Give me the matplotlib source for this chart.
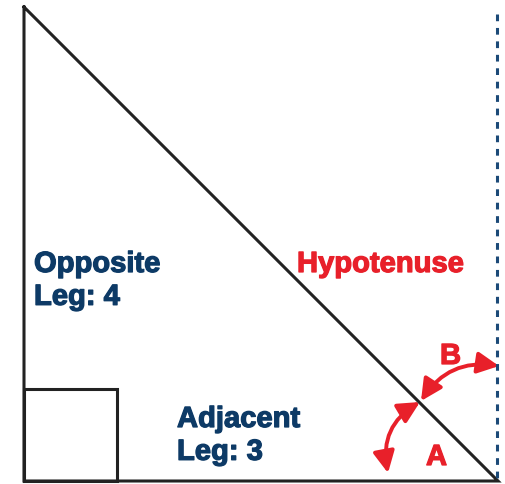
import matplotlib.pyplot as plt
import matplotlib.patheffects as pe
from matplotlib.patches import FancyArrowPatch, Rectangle

# triangle corners (picture units, y grows downward)
tri_x = [24, 24, 498, 24]
tri_y = [8, 482, 482, 8]
box = (24, 390, 93)          # right-angle marker: x, y, size
guide_x = 497                # dotted vertical guide
labels = ["Opposite\nLeg: 4", "Adjacent\nLeg: 3", "Hypotenuse", "A", "B"]

navy = "#0d3a66"
red = "#e8202a"

fig = plt.figure(figsize=(5.06, 4.85), dpi=100)
ax = fig.add_axes([0, 0, 1, 1])
ax.set_xlim(0, 506)
ax.set_ylim(485, 0)
ax.axis("off")

ax.plot(tri_x, tri_y, color="#222222", lw=2.2, solid_joinstyle="miter")
ax.add_patch(Rectangle((box[0], box[1]), box[2], 482 - box[1], fill=False,
                       ec="#222222", lw=2.2))
ax.plot([guide_x, guide_x], [15, 482], color="#1c4a78", lw=2.2,
        dashes=(2.2, 2.2))

def label(x, y, s, c):
    ax.text(x, y, s, color=c, va="top", ha="left", linespacing=1.22,
            family=["Liberation Sans", "DejaVu Sans"], weight="bold",
            fontsize=21,
            path_effects=[pe.withStroke(linewidth=0.9, foreground=c)])

label(34, 251, labels[0], navy)
label(177, 406, labels[1], navy)
label(297, 251, labels[2], red)
label(426, 444, labels[3], red)
label(440, 343, labels[4], red)

style = "<|-|>,head_length=13,head_width=6.5"
arc_a = FancyArrowPatch((388, 474), (420, 403), arrowstyle=style,
                        connectionstyle="arc3,rad=-0.35", color=red, lw=2.8,
                        mutation_scale=1.0, shrinkA=0, shrinkB=0)
arc_b = FancyArrowPatch((421, 402), (499, 367), arrowstyle=style,
                        connectionstyle="arc3,rad=-0.32", color=red, lw=2.8,
                        mutation_scale=1.0, shrinkA=0, shrinkB=0)
ax.add_patch(arc_a)
ax.add_patch(arc_b)

fig.savefig("out.png", dpi=100, facecolor="white")
